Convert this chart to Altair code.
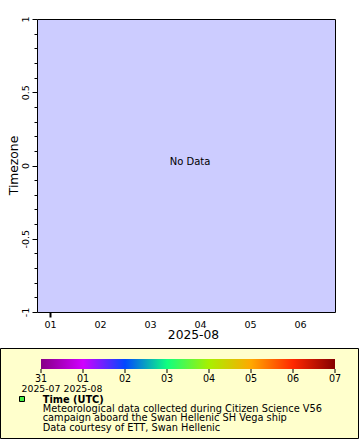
import json
import altair as alt
import pandas as pd

FONT = "DejaVu Sans"

# ---- main axes ----
day_values = [1, 2, 3, 4, 5, 6]
day_labels = ["01", "02", "03", "04", "05", "06"]
x_domain = [0.74, 6.70]
x_title = "2025-08"
y_domain = [-1, 1]
y_ticks = [-1, -0.9, -0.8, -0.7, -0.6, -0.5, -0.4, -0.3, -0.2, -0.1, 0,
           0.1, 0.2, 0.3, 0.4, 0.5, 0.6, 0.7, 0.8, 0.9, 1]
y_title = "Timezone"
no_data_text = "No Data"

# ---- colour bar ----
cbar_positions = [0, 1, 2, 3, 4, 5, 6, 7]
cbar_labels = ["31", "01", "02", "03", "04", "05", "06", "07"]
cbar_months = ["2025-07", "2025-08", "", "", "", "", "", ""]
palette = ["#860086", "#d000ff", "#0048ff", "#10ff80",
           "#a8f000", "#ffa800", "#ff2800", "#850000"]

legend_title = "Time (UTC)"
legend_lines = [
    "Meteorological data collected during Citizen Science V56",
    "campaign aboard the Swan Hellenic SH Vega ship",
    "Data courtesy of ETT, Swan Hellenic",
]

is_major = "abs(datum.value*2 - round(datum.value*2)) < 1e-6"

# axes layer (no data)
axes_layer = alt.Chart(alt.InlineData(values=[])).mark_point(opacity=0).encode(
    x=alt.X("day:Q",
            scale=alt.Scale(domain=x_domain, nice=False, zero=False),
            axis=alt.Axis(values=day_values,
                          labelExpr=f"{json.dumps(day_labels)}[datum.value - 1]",
                          title=x_title, tickSize=5, tickWidth=2, tickColor="black",
                          tickOpacity={"condition": {"test": "datum.value == 1", "value": 1}, "value": 0},
                          domain=False, grid=False, labelFont=FONT, labelFontSize=9.5,
                          labelColor="black", labelPadding=2, labelFlush=False,
                          labelOverlap=False, titleFont=FONT, titleFontSize=12.3,
                          titleFontWeight="normal", titleColor="black",
                          titleX=156, titleY=26.5, titleBaseline="alphabetic")),
    y=alt.Y("tz:Q",
            scale=alt.Scale(domain=y_domain, nice=False, zero=False),
            axis=alt.Axis(values=y_ticks,
                          labelExpr=f"{is_major} ? '' + round(datum.value*10)/10 : ''",
                          labelAngle=-90, labelAlign="center", labelBaseline="bottom",
                          tickSize={"condition": {"test": is_major, "value": 5}, "value": 3},
                          tickWidth=1, tickColor="black", domain=False, grid=False,
                          labelFont=FONT, labelFontSize=9.5, labelColor="black",
                          labelPadding=2, labelFlush=False, labelOverlap=False,
                          title=y_title, titleFont=FONT, titleFontSize=12.3,
                          titleFontWeight="normal", titleColor="black",
                          titleX=-24, titleY=146, titleBaseline="middle")),
)

one_row = alt.InlineData(values=[{"k": 1}])

no_data = alt.Chart(one_row).mark_text(
    font=FONT, fontSize=10, color="black", align="center", baseline="middle"
).encode(x=alt.value(153), y=alt.value(142.5), text=alt.value(no_data_text))

legend_box = alt.Chart(one_row).mark_rect(
    fill="#ffffcc", stroke="black", strokeWidth=1
).encode(x=alt.value(-36.5), x2=alt.value(321.5), y=alt.value(329.5), y2=alt.value(419.5))

cb_scale = alt.Scale(domain=[cbar_positions[0], cbar_positions[-1]], range=[4, 298],
                     nice=False, zero=False)

cbar_df = pd.DataFrame({"pos": cbar_positions, "label": cbar_labels, "month": cbar_months})
bar_df = pd.DataFrame({"start": [cbar_positions[0]], "end": [cbar_positions[-1]]})

grad = alt.Gradient(
    gradient="linear",
    stops=[alt.GradientStop(color=c, offset=i / (len(palette) - 1)) for i, c in enumerate(palette)],
    x1=0, x2=1, y1=0, y2=0,
)

cbar_rect = alt.Chart(bar_df).mark_rect(fill=grad).encode(
    x=alt.X("start:Q", scale=cb_scale, axis=None),
    x2="end:Q",
    y=alt.value(340), y2=alt.value(350),
)

cbar_ticks = alt.Chart(cbar_df).mark_rule(color="black", strokeWidth=1).encode(
    x=alt.X("pos:Q", scale=cb_scale, axis=None),
    y=alt.value(350), y2=alt.value(354),
)

cbar_text = alt.Chart(cbar_df).mark_text(
    font=FONT, fontSize=9.6, color="black", align="center", baseline="alphabetic"
).encode(x=alt.X("pos:Q", scale=cb_scale, axis=None), y=alt.value(363), text="label:N")

cbar_month = alt.Chart(cbar_df).mark_text(
    font=FONT, fontSize=9.3, color="black", align="center", baseline="alphabetic"
).encode(x=alt.X("pos:Q", scale=cb_scale, axis=None), y=alt.value(372.5), text="month:N")

square = alt.Chart(one_row).mark_square(
    size=25, fill="#44ee44", stroke="black", strokeWidth=1, opacity=1
).encode(x=alt.value(-15), y=alt.value(380))

title_text = alt.Chart(one_row).mark_text(
    font=FONT, fontSize=9.8, fontWeight="bold", color="black", align="left", baseline="alphabetic"
).encode(x=alt.value(5.7), y=alt.value(383.5), text=alt.value(legend_title))

body_text = alt.Chart(one_row).mark_text(
    font=FONT, fontSize=9.8, color="black", align="left", baseline="alphabetic",
    lineBreak="\n", lineHeight=9.9
).encode(x=alt.value(5.7), y=alt.value(392.5), text=alt.value("\n".join(legend_lines)))

chart = alt.layer(
    legend_box, axes_layer, no_data, cbar_rect, cbar_ticks, cbar_text, cbar_month,
    square, title_text, body_text
).resolve_scale(x="independent").properties(
    width=298, height=293,
    autosize=alt.AutoSizeParams(type="none"),
    padding={"left": 37, "top": 19, "right": 25, "bottom": 128},
    background="white",
).configure_view(fill="#ccccff", stroke="black", strokeWidth=1)

chart.save("out.html", embed_options={"renderer": "svg", "actions": False})
